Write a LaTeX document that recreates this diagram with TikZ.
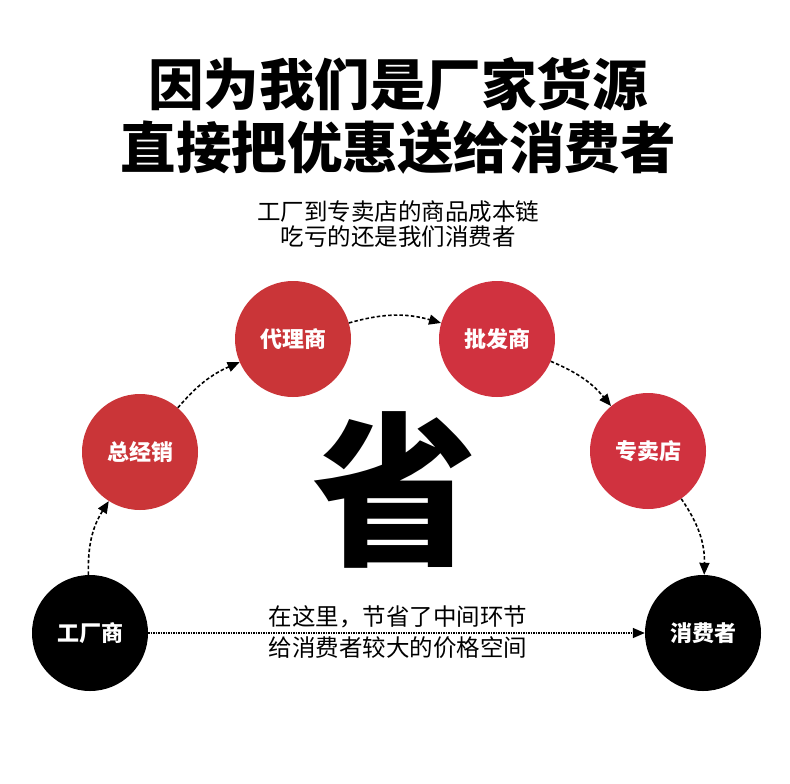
\documentclass[tikz,border=0pt]{standalone}
\usepackage{fontspec}
\setmainfont{Noto Sans CJK SC}
\usetikzlibrary{arrows.meta}
\definecolor{shengred}{HTML}{CA3538}
\definecolor{shengrose}{HTML}{D0323F}

\begin{document}
\begin{tikzpicture}[x=1pt, y=1pt,
    ball/.style={circle, minimum size=116pt, inner sep=0pt, text=white,
                 font=\fontsize{22}{22}\selectfont\bfseries},
    redball/.style={ball, fill=shengred},
    roseball/.style={ball, fill=shengrose},
    blackball/.style={ball, fill=black},
    flow/.style={-{Triangle[length=12pt,width=10pt]}, line width=1.6pt,
                 dash pattern=on 3.5pt off 2.2pt},
    line/.style={align=center, font=\fontsize{23.5}{31}\selectfont}]
    \useasboundingbox[fill=white] (0,0) rectangle (790,-784);

    % 标题
    \node[font=\fontsize{55.5}{63}\selectfont\bfseries, align=center] (title) at (398,-116)
        {因为我们是厂家货源\\直接把优惠送给消费者};
    \node[line, font=\fontsize{23.5}{25.5}\selectfont] (sub) at (398,-224)
        {工厂到专卖店的商品成本链\\吃亏的还是我们消费者};

    % 中间的大字
    \node[font=\fontsize{165}{165}\selectfont\bfseries] (sheng) at (395,-490) {省};

    % 流通链上的各个环节
    \node[blackball] (factory) at (90,-633) {工厂商};
    \node[redball]   (general) at (140,-452) {总经销};
    \node[redball]   (agent)   at (293,-339) {代理商};
    \node[roseball]  (whole)   at (497,-339) {批发商};
    \node[roseball]  (shop)    at (648,-451) {专卖店};
    \node[blackball] (buyer)   at (703,-633) {消费者};

    \draw[flow] (factory) to[bend left=17] (general);
    \draw[flow] (general) to[bend left=13] (agent);
    \draw[flow] (agent)   to[bend left=16] (whole);
    \draw[flow] (whole)   to[bend left=14] (shop);
    \draw[flow] (shop)    to[bend left=18] (buyer);

    % 直接从工厂到消费者
    \draw[-{Triangle[length=12pt,width=10pt]}, line width=1.5pt, densely dotted]
        (factory) -- (buyer);
    \node[line, font=\fontsize{23.5}{31}\selectfont] (save) at (398,-632)
        {在这里，节省了中间环节\\给消费者较大的价格空间};
\end{tikzpicture}
\end{document}
